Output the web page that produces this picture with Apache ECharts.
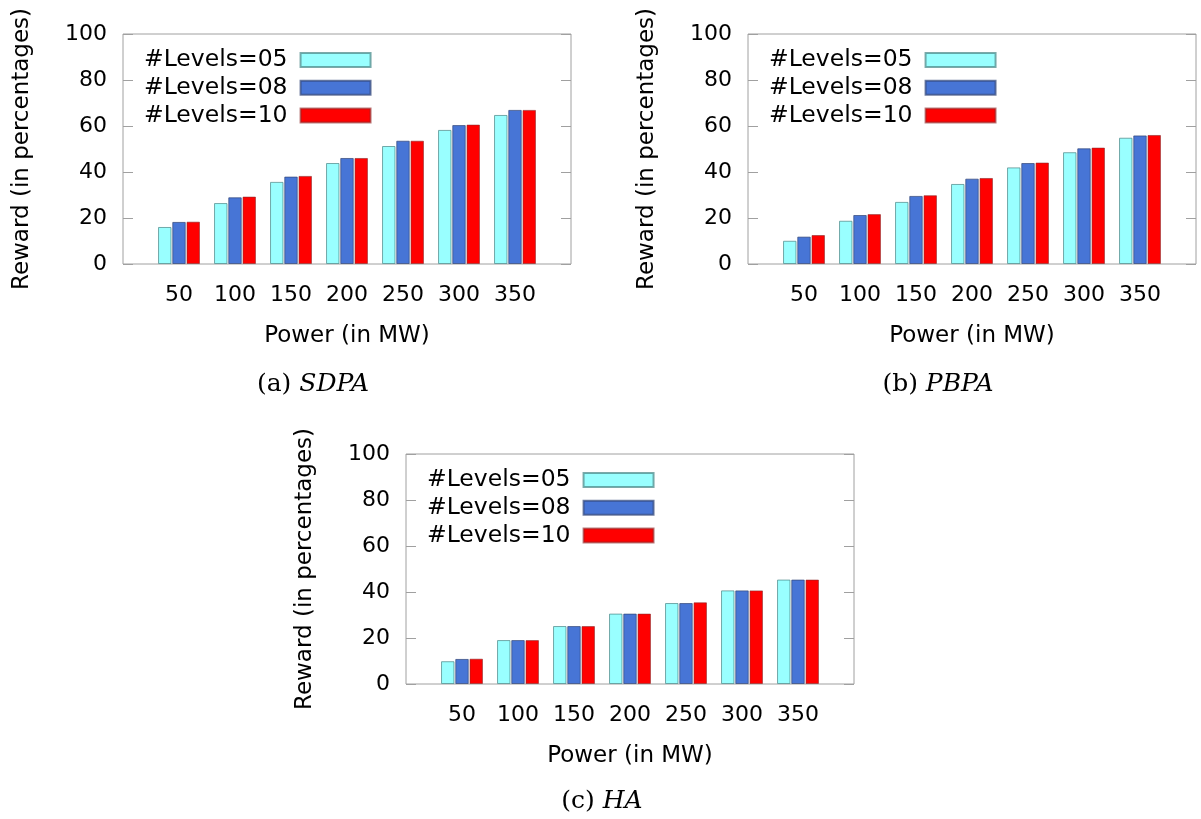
<!DOCTYPE html>
<html>
<head>
<meta charset="utf-8">
<script src="https://cdn.jsdelivr.net/npm/echarts@6/dist/echarts.min.js"></script>
<style>
  html, body { margin: 0; padding: 0; background: #fff; }
  #chart { width: 1201px; height: 819px; }
</style>
</head>
<body>
<div id="chart"></div>
<script>
// Power levels on the x axis
const powerLabels = ['50', '100', '150', '200', '250', '300', '350'];
const seriesNames = ['#Levels=05', '#Levels=08', '#Levels=10'];
const yTicks = { min: 0, max: 100, interval: 20 };

// (a) SDPA
const sdpa05 = [16.1, 26.5, 35.7, 43.9, 51.3, 58.3, 64.8];
const sdpa08 = [18.3, 29.0, 38.0, 46.1, 53.6, 60.4, 67.0];
const sdpa10 = [18.4, 29.3, 38.3, 46.1, 53.6, 60.6, 67.0];

// (b) PBPA
const pbpa05 = [10.1, 18.8, 27.0, 34.8, 42.0, 48.6, 54.9];
const pbpa08 = [11.9, 21.3, 29.6, 37.1, 43.9, 50.3, 55.9];
const pbpa10 = [12.6, 21.7, 29.9, 37.4, 44.1, 50.6, 56.1];

// (c) HA
const ha05 = [9.9, 19.1, 25.2, 30.6, 35.2, 40.7, 45.4];
const ha08 = [10.9, 19.1, 25.2, 30.6, 35.2, 40.7, 45.4];
const ha10 = [11.0, 19.1, 25.2, 30.6, 35.5, 40.7, 45.4];

const panels = [
  { data: [sdpa05, sdpa08, sdpa10], grid: { left: 123, top: 34, width: 448, height: 230 },
    legend: { left: 144, top: 48 }, caption: { tag: '(a)', name: 'SDPA', x: 313, y: 372 } },
  { data: [pbpa05, pbpa08, pbpa10], grid: { left: 748, top: 34, width: 448, height: 230 },
    legend: { left: 769, top: 48 }, caption: { tag: '(b)', name: 'PBPA', x: 938, y: 372 } },
  { data: [ha05, ha08, ha10], grid: { left: 406, top: 454, width: 448, height: 230 },
    legend: { left: 427, top: 468 }, caption: { tag: '(c)', name: 'HA', x: 602, y: 789 } }
];

const colors = ['#99ffff', '#4775d6', '#ff0000'];
const borders = ['rgba(80,140,140,0.75)', 'rgba(50,70,120,0.7)', 'rgba(140,40,40,0.6)'];
const FONT = 'DejaVu Sans';

// Pad one empty slot on each side so bar groups sit one unit in from the frame
const padded = arr => [null, ...arr, null];
const xCats = padded(powerLabels).map(v => v === null ? '' : v);

const option = {
  animation: false,
  backgroundColor: '#ffffff',
  textStyle: { fontFamily: FONT },
  grid: [], xAxis: [], yAxis: [], series: [], legend: [], title: []
};

panels.forEach((p, i) => {
  option.grid.push(Object.assign({
    show: true, borderColor: '#a0a0a0', borderWidth: 1, backgroundColor: 'transparent'
  }, p.grid));

  option.xAxis.push({
    type: 'category', gridIndex: i, data: xCats, boundaryGap: false,
    axisLine: { show: false }, axisTick: { show: false },
    axisLabel: { interval: 0, fontSize: 22, color: '#000', margin: 20, fontFamily: FONT },
    name: 'Power (in MW)', nameLocation: 'middle', nameGap: 61,
    nameTextStyle: { fontSize: 23, color: '#000', fontFamily: FONT }
  });

  option.yAxis.push({
    type: 'value', gridIndex: i, min: yTicks.min, max: yTicks.max, interval: yTicks.interval,
    axisLine: { show: false }, splitLine: { show: false },
    axisTick: { show: true, inside: true, length: 10, lineStyle: { color: '#a0a0a0' } },
    axisLabel: { fontSize: 22, color: '#000', margin: 16, fontFamily: FONT },
    name: 'Reward (in percentages)', nameLocation: 'middle', nameGap: 89,
    nameTextStyle: { fontSize: 23, color: '#000', fontFamily: FONT }
  });
  option.yAxis.push({
    type: 'value', gridIndex: i, position: 'right',
    min: yTicks.min, max: yTicks.max, interval: yTicks.interval,
    axisLine: { show: false }, splitLine: { show: false }, axisLabel: { show: false },
    axisTick: { show: true, inside: true, length: 10, lineStyle: { color: '#a0a0a0' } }
  });

  p.data.forEach((vals, k) => {
    option.series.push({
      type: 'bar', name: seriesNames[k], xAxisIndex: i, yAxisIndex: 2 * i,
      data: padded(vals), barWidth: '24%', barGap: '6%',
      itemStyle: { color: colors[k], borderColor: borders[k], borderWidth: 1 }
    });
  });

  option.legend.push({
    data: seriesNames, orient: 'vertical', left: p.legend.left, top: p.legend.top,
    padding: 0, align: 'right', itemWidth: 70, itemHeight: 14, itemGap: 3.8, selectedMode: false,
    icon: 'rect',
    textStyle: { fontSize: 23.5, color: '#000', fontFamily: FONT, lineHeight: 22, padding: [0, 8, 0, 0] }
  });

  option.title.push({
    text: p.caption.tag + ' {i|' + p.caption.name + '}',
    left: p.caption.x, top: p.caption.y, textAlign: 'center', padding: 0,
    textStyle: {
      fontFamily: 'DejaVu Serif', fontSize: 25, fontWeight: 'normal', color: '#000',
      rich: { i: { fontFamily: 'DejaVu Serif', fontStyle: 'italic', fontSize: 25, color: '#000' } }
    }
  });
});

const chart = echarts.init(document.getElementById('chart'), null, { renderer: 'canvas' });
chart.setOption(option);
</script>
</body>
</html>
